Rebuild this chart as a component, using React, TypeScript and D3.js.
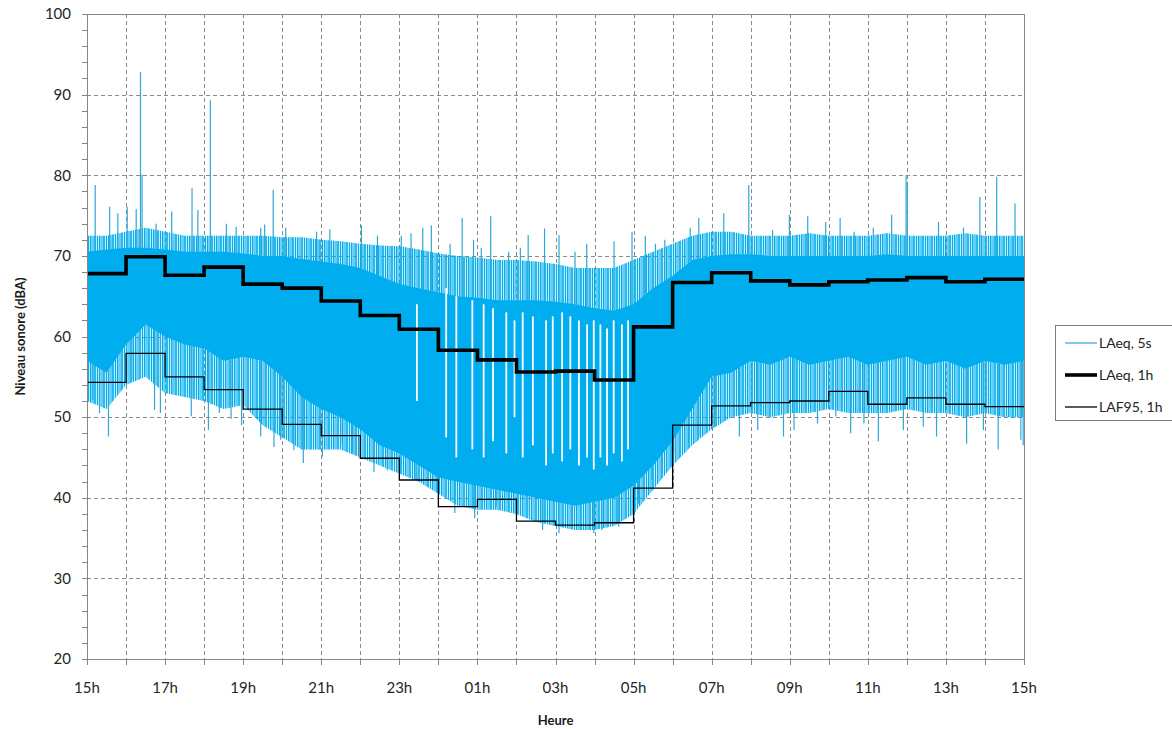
import React from 'react';
import * as d3 from 'd3';

// ---------- DATA ----------
// hours since 15h (0 = 15h, 24 = 15h next day)
const hourStarts = [0,1,2,3,4,5,6,7,8,9,10,11,12,13,14,15,16,17,18,19,20,21,22,23];
const laeq1h = [67.8, 69.9, 67.6, 68.6, 66.5, 66.0, 64.4, 62.6, 60.9, 58.3, 57.1, 55.6, 55.7, 54.6, 61.2, 66.7, 67.9, 66.9, 66.4, 66.8, 67.0, 67.3, 66.8, 67.1];
const laf95_1h = [54.3, 57.9, 55.0, 53.4, 51.0, 49.1, 47.7, 44.9, 42.2, 38.9, 39.8, 37.1, 36.6, 36.9, 41.2, 49.0, 51.4, 51.8, 52.0, 53.2, 51.6, 52.4, 51.6, 51.3];

const xTickHours = [0,2,4,6,8,10,12,14,16,18,20,22,24];
const xTickLabels = ['15h','17h','19h','21h','23h','01h','03h','05h','07h','09h','11h','13h','15h'];
const yTickValues = [20,30,40,50,60,70,80,90,100];

// LAeq 5s envelope (read every half hour)
const bandHours = [0,0.5,1,1.5,2,2.5,3,3.5,4,4.5,5,5.5,6,6.5,7,7.5,8,8.5,9,9.5,10,10.5,11,11.5,12,12.5,13,13.5,14,14.5,15,15.5,16,16.5,17,17.5,18,18.5,19,19.5,20,20.5,21,21.5,22,22.5,23,23.5,24];
const fringeTop = [72.5,72.5,73,73.5,73,72.5,72.5,72.5,72.5, 72.5,72.3,72.3,72,71.8,71.5,71.3,71.2, 70.8,70.3,70,69.8,69.5,69.5,69.3,69, 68.5,68.5,68.5,69.5,70.5,71.5,72.5,73, 73,72.5,72.5,72.5,72.8,72.5,72.5,72.5,72.8,72.5,72.5,72.5,72.8,72.5,72.5,72.5];
const coreTop = [70.5,70.8,71,71,70.8,70.5,70.5,70.5,70.3, 70,70,69.6,69.3,69,68.5,67.5,66.5, 66,65.5,65,64.8,64.5,64.5,64.5,64.3, 64,63.5,63.2,64,66,67.5,69.5,70, 70.2,70.2,70,70,70,70,70,70,70.2,70,70,70,70,70,70,70];
const coreBottom = [57,55.5,59,61.5,60,59,58.5,57,57.5, 57,55,52.5,51,50,48.5,46.5,45.5, 44,42.5,42,41.5,41,40.5,40,39.5, 39,39.5,40,41.5,44,47,51,55, 55.5,57,56.5,57.5,56.5,57,57.5,56.5,57,57.5,56.5,57,56,57,56.5,57];
const fringeBottom = [52,51,54,55,53,52.5,52,51,51.5, 49,47.5,46,46,46,45,44,43, 42,40.5,39,38.5,38.5,38,37,36.5, 36,36,36.5,38,41,44,46.5,48.5, 50,50.5,50,50.5,50.5,51,50.5,50.5,50.5,51,50.5,50.5,50,50.5,50,50];

// isolated 5s peaks above the band [hour, dBA]
const upPeaks = [[0.21,78.8],[0.58,76.1],[0.79,75.3],[1.03,76.1],[1.26,75.8],[1.37,92.8],[1.41,80.1],[1.77,74.0],[2.17,75.5],[2.69,78.4],[2.84,75.7],[3.16,89.3],[3.57,74.0],[3.82,73.6],[4.45,73.5],[4.55,73.9],[4.77,78.2],[5.09,73.5],[5.88,73.0],[6.22,73.3],[7.03,73.8],[7.44,72.5],[8.05,72.5],[8.3,72.8],[8.6,73.5],[8.82,73.8],[9.3,71.5],[9.61,74.7],[9.9,72.0],[10.1,71],[10.34,74.9],[10.8,70.5],[11.1,71],[11.3,72.6],[11.72,73.4],[12.09,72.6],[12.5,70.5],[12.8,71.5],[13.5,71.8],[13.96,73.0],[14.3,72.5],[14.56,71.5],[14.8,72],[15.45,73.5],[15.67,74.7],[16.31,75.3],[16.95,78.8],[17.56,73.2],[17.99,75.1],[18.46,74.9],[18.92,74.2],[19.29,74.7],[19.65,73.0],[20.14,73.5],[20.61,75.1],[20.98,80.0],[21.01,79.0],[21.81,74.2],[22.45,73.5],[22.87,77.3],[23.3,79.8],[23.77,76.5]];
// isolated 5s minima below the band [hour, dBA]
const downPeaks = [[0.15,52.1],[0.32,50.5],[0.55,47.6],[1.18,54.6],[1.73,50.9],[1.88,50.5],[2.17,53],[2.67,50.1],[3.11,48.4],[3.39,50.5],[3.69,49.8],[3.96,49.0],[4.45,47.6],[4.79,46.3],[4.96,47.2],[5.3,45.9],[5.54,44.3],[6.03,45.1],[6.5,46.8],[6.8,45.5],[7.35,43.2],[7.69,43.4],[8.43,42.2],[9.42,38.1],[9.93,37.5],[10.48,38.9],[11.33,37.7],[11.67,36.0],[12.09,35.6],[12.43,36.8],[12.98,35.6],[13.19,36],[13.62,36.4],[14.13,39.3],[14.47,42.2],[14.73,43],[15.07,45.5],[15.41,46.8],[15.67,47.6],[16.07,48.8],[16.71,47.6],[17.18,48.4],[17.84,47.6],[18.11,48.4],[18.71,49.2],[19.18,50.1],[19.56,48.0],[19.9,49.2],[20.27,47.0],[20.91,48.4],[21.42,48.8],[21.76,47.6],[22.53,46.7],[22.96,48.4],[23.34,46.0],[23.92,47.2],[23.98,46.5]];
// night: uncovered stripes inside the band [hour, top, bottom]
const nightGaps = [[8.45,64,52],[9.2,66,47.5],[9.46,65,45],[9.87,64.5,46],[10.16,64,45],[10.4,63.5,47],[10.74,63,45.5],[10.95,62,50],[11.16,63,45],[11.42,62.5,46.5],[11.76,62,44],[11.93,62.5,45.5],[12.17,63,44.5],[12.38,62.5,46],[12.6,62,44],[12.81,61.5,45],[12.98,62,43.5],[13.15,61.5,45],[13.32,61,44],[13.49,62,45.5],[13.7,61.5,44.5],[13.86,62,46]];

const legendItems = ['LAeq, 5s', 'LAeq, 1h', 'LAF95, 1h'];

// ---------- CHART ----------
const W = 1172, H = 729;
const L = 87, R = 1024, T = 14, B = 659;
const FONT = "Lato, 'Open Sans', sans-serif";
const CYAN = '#00AEEF';
const SPIKE = '#2FA8D6';
const GRID = '#8a8a8a';
const AXIS = '#868686';

export default function App() {
  const x = d3.scaleLinear().domain([0, 24]).range([L, R]);
  const y = d3.scaleLinear().domain([20, 100]).range([B, T]);

  const coreTopAt = d3.scaleLinear().domain(bandHours).range(coreTop);
  const coreBotAt = d3.scaleLinear().domain(bandHours).range(coreBottom);

  const fringeArea = d3.area<number>()
    .x((_, i) => x(bandHours[i]))
    .y0((_, i) => y(fringeBottom[i]))
    .y1((_, i) => y(fringeTop[i]))(bandHours) as string;
  const coreArea = d3.area<number>()
    .x((_, i) => x(bandHours[i]))
    .y0((_, i) => y(coreBottom[i]))
    .y1((_, i) => y(coreTop[i]))(bandHours) as string;

  const step = (vals: number[]) => {
    const pts: [number, number][] = hourStarts.map((h, i) => [h, vals[i]]);
    pts.push([24, vals[vals.length - 1]]);
    return d3.line().x(d => x(d[0])).y(d => y(d[1])).curve(d3.curveStepAfter)(pts) as string;
  };

  const hours = d3.range(0, 25);
  const minorY = d3.range(20, 101, 2);

  return (
    <svg width={W} height={H} style={{ position: 'absolute', left: 0, top: 0, display: 'block', background: '#fff' }}>
      <defs>
        <pattern id="lines5s" patternUnits="userSpaceOnUse" width={9} height={4}>
          <rect x={0} y={0} width={1.4} height={4} fill={CYAN} />
          <rect x={2.5} y={0} width={1} height={4} fill={CYAN} />
          <rect x={4.2} y={0} width={1.6} height={4} fill={CYAN} />
          <rect x={7} y={0} width={1} height={4} fill={CYAN} />
        </pattern>
      </defs>
      <rect x={0} y={0} width={W} height={H} fill="#fff" />
      {/* grid */}
      <g stroke={GRID} strokeWidth={1} strokeDasharray="4,3" shapeRendering="crispEdges">
        {hours.slice(1, 24).map(h => (
          <line key={'gv' + h} x1={Math.round(x(h)) + 0.5} x2={Math.round(x(h)) + 0.5} y1={T} y2={B} />
        ))}
        {yTickValues.slice(1, -1).map(v => (
          <line key={'gh' + v} x1={L} x2={R} y1={Math.round(y(v)) + 0.5} y2={Math.round(y(v)) + 0.5} />
        ))}
      </g>

      {/* LAeq 5s */}
      <path d={fringeArea} fill={CYAN} fillOpacity={0.22} />
      <path d={fringeArea} fill="url(#lines5s)" />
      <path d={coreArea} fill={CYAN} />
      <g stroke="#fff" strokeWidth={1.8}>
        {nightGaps.map((g, i) => (
          <line key={'gap' + i} x1={x(g[0])} x2={x(g[0])} y1={y(g[1])} y2={y(g[2])} />
        ))}
      </g>
      <g stroke={SPIKE} strokeWidth={1.2}>
        {upPeaks.map((p, i) => (
          <line key={'up' + i} x1={x(p[0])} x2={x(p[0])} y1={y(coreTopAt(p[0]))} y2={y(p[1])} />
        ))}
        {downPeaks.map((p, i) => (
          <line key={'dn' + i} x1={x(p[0])} x2={x(p[0])} y1={y(coreBotAt(p[0]))} y2={y(p[1])} />
        ))}
      </g>

      {/* hourly steps */}
      <path d={step(laf95_1h)} fill="none" stroke="#000" strokeWidth={1.3} />
      <path d={step(laeq1h)} fill="none" stroke="#000" strokeWidth={3.6} />

      {/* frame & axes */}
      <rect x={L + 0.5} y={T + 0.5} width={R - L} height={B - T} fill="none" stroke={AXIS} strokeWidth={1} shapeRendering="crispEdges" />
      <g stroke={AXIS} strokeWidth={1} shapeRendering="crispEdges">
        {minorY.map(v => (
          <line key={'yt' + v} x1={L - 5} x2={L} y1={Math.round(y(v)) + 0.5} y2={Math.round(y(v)) + 0.5} />
        ))}
        {hours.map(h => (
          <line key={'xt' + h} x1={Math.round(x(h)) + 0.5} x2={Math.round(x(h)) + 0.5} y1={B} y2={B + 6} />
        ))}
      </g>
      <g fontFamily={FONT} fontSize={15} fill="#262626">
        {yTickValues.map(v => (
          <text key={'yl' + v} x={71} y={y(v)} dy="0.35em" textAnchor="end">{v}</text>
        ))}
        {xTickHours.map((h, i) => (
          <text key={'xl' + h} x={x(h)} y={693} textAnchor="middle">{xTickLabels[i]}</text>
        ))}
      </g>
      <text x={0} y={0} transform={`translate(25, ${(T + B) / 2}) rotate(-90)`} textAnchor="middle"
        fontFamily={FONT} fontSize={13} fontWeight="bold" fill="#1a1a1a">Niveau sonore (dBA)</text>
      <text x={(L + R) / 2} y={725} textAnchor="middle" fontFamily={FONT} fontSize={13} fontWeight="bold" fill="#1a1a1a">Heure</text>

      {/* legend */}
      <rect x={1055.5} y={325.5} width={140} height={95} fill="#fff" stroke="#7f7f7f" strokeWidth={1} />
      {legendItems.map((name, i) => {
        const ly = 343 + i * 32;
        const sw = i === 0 ? 1.2 : i === 1 ? 3.6 : 1.3;
        const col = i === 0 ? SPIKE : '#000';
        return (
          <g key={name}>
            <line x1={1065} x2={1097} y1={ly} y2={ly} stroke={col} strokeWidth={sw} />
            <text x={1099} y={ly} dy="0.35em" fontFamily={FONT} fontSize={14} fill="#262626">{name}</text>
          </g>
        );
      })}
    </svg>
  );
}
